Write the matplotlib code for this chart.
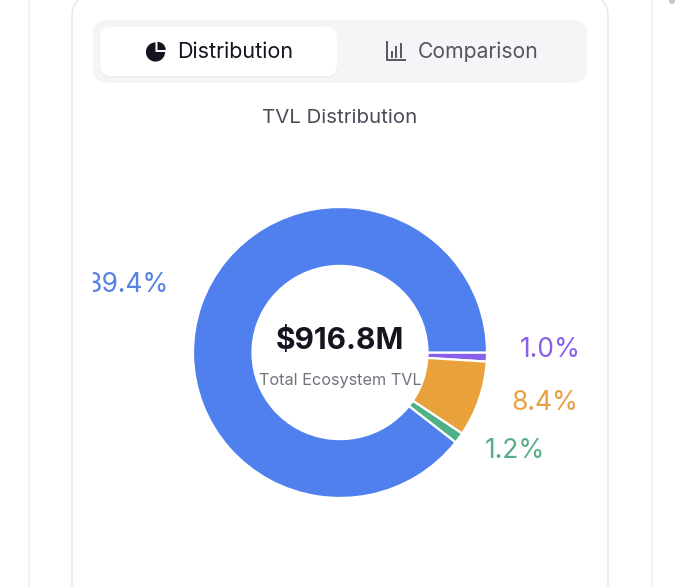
#!/usr/bin/env python3
import matplotlib
matplotlib.use("Agg")
import matplotlib.pyplot as plt
from matplotlib.patches import FancyBboxPatch, Rectangle, Wedge

plt.rcParams['font.family'] = ['Inter', 'DejaVu Sans']

# clockwise from 3 o'clock
shares = [1.0, 8.4, 1.2, 89.4]
colors = ['#8A5FE8', '#E9A23B', '#4FB286', '#4F80EE']
text_colors = ['#8A5FE8', '#E8A040', '#55AE88', '#5580E4']
labels = ['1.0%', '8.4%', '1.2%', '89.4%']
total_text = '$916.8M'
total_label = 'Total Ecosystem TVL'
tabs = ['Distribution', 'Comparison']
chart_title = 'TVL Distribution'

W, H = 680, 587
fig = plt.figure(figsize=(W / 100, H / 100), dpi=100, facecolor='white')

# page furniture in pixel coordinates
ui = fig.add_axes([0, 0, 1, 1])
ui.set_xlim(0, W)
ui.set_ylim(H, 0)
ui.axis('off')


def rounded(x0, y0, x1, y1, r, **kw):
    p = FancyBboxPatch((x0 + r, y0 + r), x1 - x0 - 2 * r, y1 - y0 - 2 * r,
                       boxstyle='round,pad=%f,rounding_size=%f' % (r, r), **kw)
    ui.add_patch(p)
    return p


# outer panel and card
ui.plot([29, 29], [0, H], color='#F0F0F2', lw=1.3)
ui.plot([652, 652], [0, H], color='#F0F0F2', lw=1.3)
rounded(72, -4, 608, H + 40, 20, fc='white', ec='#EAEBEE', lw=1.3)
ui.add_patch(plt.Circle((672, 1), 3, fc='#C4C5C9', ec='none'))

# tab bar
rounded(93, 20, 587, 83, 14, fc='#F4F5F7', ec='none')
rounded(99, 29, 337, 78, 11, fc='#ECEDF0', ec='none', alpha=0.7)
rounded(100, 27, 337, 76, 11, fc='white', ec='none')

# tab icons
ink = '#14151F'
ui.add_patch(Wedge((155.5, 52), 9.6, 0, 270, fc=ink, ec='none'))
ui.add_patch(Wedge((157.5, 50), 8.2, 270, 360, fc=ink, ec='none'))
grey = '#555662'
ui.plot([386.5, 386.5, 405], [42, 60, 60], color=grey, lw=1.4)
for bx, by in zip([391.5, 396, 401], [52, 47, 44]):
    ui.plot([bx, bx], [56.5, by], color=grey, lw=1.4)

ui.text(235.5, 52, tabs[0], fontsize=15.5, color=ink, ha='center', va='center')
ui.text(478.5, 52, tabs[1], fontsize=15.2, color=grey, ha='center', va='center')
ui.text(340, 118, chart_title, fontsize=14.7, color='#4B4C59', ha='center', va='center')

# donut, very slightly wider than tall in the reference
cx, cy, rx, ry = 340, 352.5, 147, 145.5
ax = fig.add_axes([(cx - rx) / W, 1 - (cy + ry) / H, 2 * rx / W, 2 * ry / H])
ax.pie(shares, colors=colors, startangle=0, counterclock=False, radius=1,
       wedgeprops=dict(width=1 - 87.5 / rx, edgecolor='white', linewidth=1.6))
ax.set_aspect('auto')
ax.set_xlim(-1, 1)
ax.set_ylim(-1, 1)

# text over the donut
top = fig.add_axes([0, 0, 1, 1], facecolor='none')
top.set_xlim(0, W)
top.set_ylim(H, 0)
top.axis('off')
top.text(340, 341, total_text, fontsize=21.5, fontweight='bold', color=ink,
         ha='center', va='center')
top.text(340, 380, total_label, fontsize=11.7, color='#72737E',
         ha='center', va='center')

label_pos = [(550.5, 350), (544.5, 403), (515.5, 451), (127, 285)]
clip = Rectangle((93, 0), 494, H, transform=top.transData)
for t, c, (x, y) in zip(labels, text_colors, label_pos):
    txt = top.text(x, y, t, fontsize=19, color=c, ha='center', va='center')
    txt.set_clip_on(True)
    txt.set_clip_path(clip)

fig.savefig('out.png', dpi=100)
